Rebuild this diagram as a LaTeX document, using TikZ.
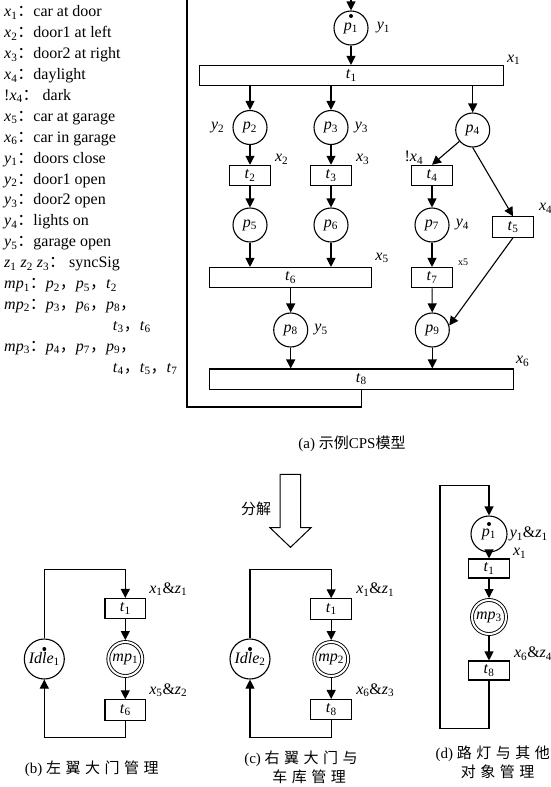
\documentclass[tikz,border=0pt]{standalone}
\usepackage{fontspec}
\setmainfont{Liberation Serif}
\newfontfamily\cjk{Noto Sans CJK SC}
\newfontfamily\cjkwide[LetterSpace=30]{Noto Sans CJK SC}
\usetikzlibrary{arrows.meta,positioning}
\newcommand{\sv}[2]{\textit{#1}\textsubscript{#2}}
\newcommand{\cc}{{\cjk ：}}
\newcommand{\cm}{{\cjk ，}}
\begin{document}
\begin{tikzpicture}[
                x=1pt, y=-1pt,
                font=\fontsize{16}{19}\selectfont,
                place/.style={circle, draw, line width=1.1pt, minimum size=34pt, inner sep=0pt},
                bigplace/.style={place, minimum size=40pt},
                mplace/.style={circle, draw, double, line width=0.9pt, double distance=2pt,
                               minimum size=34pt, inner sep=0pt, outer sep=2pt},
                trans/.style={rectangle, draw, line width=1.1pt, minimum width=40.6pt,
                              minimum height=20.4pt, inner sep=0pt},
                lab/.style={inner sep=1pt},
                legendline/.style={anchor=base west, inner sep=0pt},
                captext/.style={inner sep=0pt, font=\fontsize{15}{18}\selectfont},
                flow/.style={-{Triangle[length=9pt, width=9pt]}, line width=1.1pt}
                ]
                \useasboundingbox (0,0) rectangle (551,787);
                % legend
                \node[legendline] at (4,16.8) {\sv{x}{1}\cc car at door};
                \node[legendline] at (4,37.7) {\sv{x}{2}\cc door1 at left};
                \node[legendline] at (4,58.6) {\sv{x}{3}\cc door2 at right};
                \node[legendline] at (4,79.5) {\sv{x}{4}\cc daylight};
                \node[legendline] at (4,100.4) {!\sv{x}{4}\cc\ dark};
                \node[legendline] at (4,121.3) {\sv{x}{5}\cc car at garage};
                \node[legendline] at (4,142.2) {\sv{x}{6}\cc car in garage};
                \node[legendline] at (4,163.1) {\sv{y}{1}\cc doors close};
                \node[legendline] at (4,184.0) {\sv{y}{2}\cc door1 open};
                \node[legendline] at (4,204.9) {\sv{y}{3}\cc door2 open};
                \node[legendline] at (4,225.8) {\sv{y}{4}\cc lights on};
                \node[legendline] at (4,246.7) {\sv{y}{5}\cc garage open};
                \node[legendline] at (4,267.6) {\sv{z}{1} \sv{z}{2} \sv{z}{3}\cc\ syncSig};
                \node[legendline] at (4,288.5) {\sv{mp}{1}\cc\sv{p}{2}\cm\sv{p}{5}\cm\sv{t}{2}};
                \node[legendline] at (4,309.4) {\sv{mp}{2}\cc\sv{p}{3}\cm\sv{p}{6}\cm\sv{p}{8}\cm};
                \node[legendline] at (112.7,330.3) {\sv{t}{3}\cm\sv{t}{6}};
                \node[legendline] at (4,351.2) {\sv{mp}{3}\cc\sv{p}{4}\cm\sv{p}{7}\cm\sv{p}{9}\cm};
                \node[legendline] at (112.7,372.1) {\sv{t}{4}\cm\sv{t}{5}\cm\sv{t}{7}};
                % (a) CPS model
                \node[place] (p1) at (351,28) {\sv{p}{1}};
                \fill ([yshift=12pt]p1.center) circle (2pt);
                \node[lab, right=7pt of p1] {\sv{y}{1}};
                \node[trans, minimum width=304pt] (t1) at (351.3,75.7) {\sv{t}{1}};
                \node[lab, above right=-1pt and 2pt of t1.north east] {\sv{x}{1}};
                \node[place] (p2) at (250,127.5) {\sv{p}{2}};
                \node[lab, left=7pt of p2] {\sv{y}{2}};
                \node[place] (p3) at (331,127.5) {\sv{p}{3}};
                \node[lab, right=5pt of p3] {\sv{y}{3}};
                \node[place] (p4) at (472.7,130) {\sv{p}{4}};
                \node[trans] (t2) at (250,175.5) {\sv{t}{2}};
                \node[lab, above right=-1pt and 3pt of t2.north east] {\sv{x}{2}};
                \node[trans] (t3) at (331,175.5) {\sv{t}{3}};
                \node[lab, above right=-1pt and 3pt of t3.north east] {\sv{x}{3}};
                \node[trans] (t4) at (432,175.5) {\sv{t}{4}};
                \node[lab, above right=-1pt and -7.7pt of t4.north west] {!\sv{x}{4}};
                \node[place] (p5) at (250,225) {\sv{p}{5}};
                \node[place] (p6) at (331,225) {\sv{p}{6}};
                \node[place] (p7) at (432,225) {\sv{p}{7}};
                \node[lab, right=5pt of p7] {\sv{y}{4}};
                \node[trans] (t5) at (513,227) {\sv{t}{5}};
                \node[lab, above right=2pt and 4pt of t5.north east] {\sv{x}{4}};
                \node[trans, minimum width=162.4pt] (t6) at (290.5,277.7) {\sv{t}{6}};
                \node[lab, above right=3pt and 2pt of t6.north east] {\sv{x}{5}};
                \node[trans] (t7) at (432,277.7) {\sv{t}{7}};
                \node[lab, above right=0pt and 4pt of t7.north east, font=\fontsize{10}{12}\selectfont] {x5};
                \node[place] (p8) at (290.7,330) {\sv{p}{8}};
                \node[lab, right=5pt of p8] {\sv{y}{5}};
                \node[place] (p9) at (432.3,330) {\sv{p}{9}};
                \node[trans, minimum width=304pt] (t8) at (361.3,379.2) {\sv{t}{8}};
                \node[lab, above right=1pt and 1pt of t8.north east] {\sv{x}{6}};
                \draw[flow] (p1) -- (p1 |- t1.north);
                \draw[flow] (t1.south -| p2) -- (p2);
                \draw[flow] (t1.south -| p3) -- (p3);
                \draw[flow] (t1.south -| p4) -- (p4);
                \draw[flow] (p2) -- (t2);
                \draw[flow] (p3) -- (t3);
                \draw[flow] (p4) -- (t4.north);
                \draw[flow] (p4.south) -- (t5.north);
                \draw[flow] (t2) -- (p5);
                \draw[flow] (t3) -- (p6);
                \draw[flow] (t4) -- (p7);
                \draw[flow] (p5) -- (p5 |- t6.north);
                \draw[flow] (p6) -- (p6 |- t6.north);
                \draw[flow] (p7) -- (t7);
                \draw[flow] (t6.south -| p8) -- (p8);
                \draw[flow] (t7) -- (p9);
                \draw[flow] (t5.south) -- (p9.15);
                \draw[flow] (p8) -- (p8 |- t8.north);
                \draw[flow] (p9) -- (p9 |- t8.north);
                \draw[flow] (t8.south) -- (t8.south |- 0,407) -| (187,-10) -| (p1.north);
                \node[captext] at (352,444) {(a) {\cjk 示例}CPS{\cjk 模型}};
                % decomposition arrow
                \draw[line width=1pt] (280,474.3) -- (300.7,474.3) -- (300.7,527.7) -- (311,527.7)
                    -- (290.5,547.3) -- (270,527.7) -- (280,527.7) -- cycle;
                \node[captext] at (256,509) {\cjk 分解};
                % (b)
                \node[bigplace] (b-idle) at (44.3,659) {\sv{Idle}{1}};
                \fill ([yshift=10pt]b-idle.center) circle (2pt);
                \node[trans] (b-t1) at (125.3,608.7) {\sv{t}{1}};
                \node[lab, above right=1pt and 2pt of b-t1.north east] {\sv{x}{1}\&\sv{z}{1}};
                \node[mplace] (b-mp) at (125.3,659) {\sv{mp}{1}};
                \node[trans] (b-t6) at (125.3,710) {\sv{t}{6}};
                \node[lab, above right=1pt and 2pt of b-t6.north east] {\sv{x}{5}\&\sv{z}{2}};
                \draw[flow] (b-idle.north) |- ([yshift=28.3pt]b-t1.north) -- (b-t1.north);
                \draw[flow] (b-t1) -- (b-mp);
                \draw[flow] (b-mp) -- (b-t6);
                \draw[flow] (b-t6.south) -- ([yshift=-16.7pt]b-t6.south) -| (b-idle.south);
                \node[captext] at (91.7,768.3) {(b) {\cjkwide 左翼大门管理}};
                % (c)
                \node[bigplace] (c-idle) at (250,659) {\sv{Idle}{2}};
                \fill ([yshift=10pt]c-idle.center) circle (2pt);
                \node[trans] (c-t1) at (331.2,609) {\sv{t}{1}};
                \node[lab, above right=1pt and 3pt of c-t1.north east] {\sv{x}{1}\&\sv{z}{1}};
                \node[mplace] (c-mp) at (331.2,659) {\sv{mp}{2}};
                \node[trans] (c-t8) at (331.2,709.7) {\sv{t}{8}};
                \node[lab, above right=1pt and 3pt of c-t8.north east] {\sv{x}{6}\&\sv{z}{3}};
                \draw[flow] (c-idle.north) |- ([yshift=29pt]c-t1.north) -- (c-t1.north);
                \draw[flow] (c-t1) -- (c-mp);
                \draw[flow] (c-mp) -- (c-t8);
                \draw[flow] (c-t8.south) -- ([yshift=-17pt]c-t8.south) -| (c-idle.south);
                \node[captext] at (301,758.3) {(c) {\cjkwide 右翼大门与}};
                \node[captext] at (309,776.7) {\cjkwide 车库管理};
                % (d)
                \node[place, minimum size=36pt] (d-p1) at (489,534) {\sv{p}{1}};
                \fill ([yshift=10pt]d-p1.center) circle (2pt);
                \node[lab, right=1pt of d-p1] {\sv{y}{1}\&\sv{z}{1}};
                \node[trans, minimum height=19pt] (d-t1) at (489,568.5) {\sv{t}{1}};
                \node[lab, above right=-1pt and 2pt of d-t1.north east] {\sv{x}{1}};
                \node[mplace] (d-mp) at (489,617) {\sv{mp}{3}};
                \node[trans, minimum height=19pt] (d-t8) at (489,670.5) {\sv{t}{8}};
                \node[lab, above right=-1pt and 3pt of d-t8.north east] {\sv{x}{6}\&\sv{z}{4}};
                \draw[flow] (d-p1) -- (d-t1);
                \draw[flow] (d-t1) -- (d-mp);
                \draw[flow] (d-mp) -- (d-t8);
                \draw[flow] (d-t8.south) -- (d-t8.south |- 0,728.3) -| (440,485.7) -| (d-p1.north);
                \node[captext] at (492.7,753.3) {(d) {\cjkwide 路灯与其他}};
                \node[captext] at (497.5,771.7) {\cjkwide 对象管理};
            \end{tikzpicture}
\end{document}
